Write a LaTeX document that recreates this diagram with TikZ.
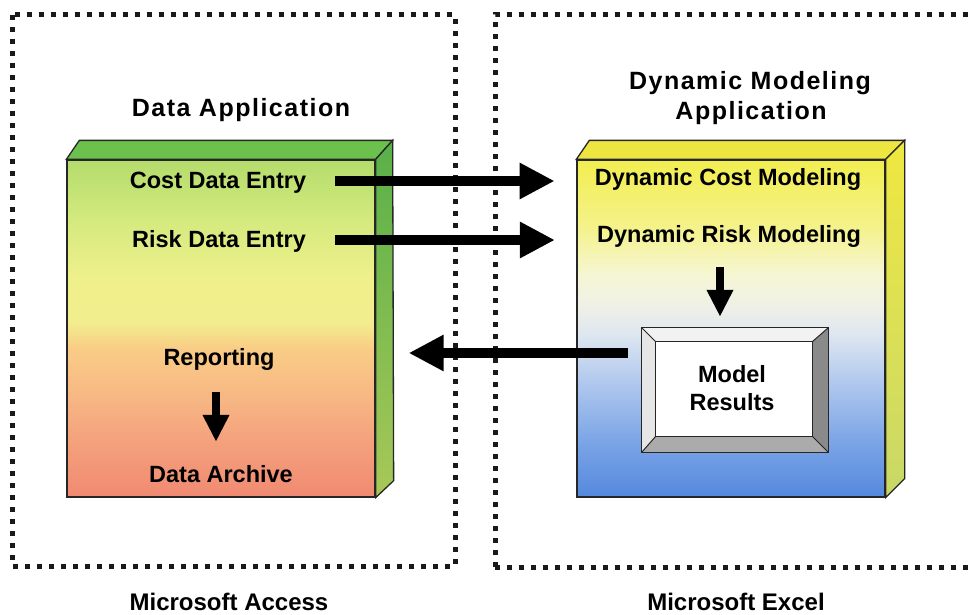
\documentclass[tikz,border=0pt]{standalone}
\usepackage{fontspec}
\setmainfont{Liberation Sans}
\newfontfamily\widefont[LetterSpace=6]{Liberation Sans}
\usetikzlibrary{arrows.meta}

% Access block colours (bottom to top)
\definecolor{acA}{HTML}{F08A72}
\definecolor{acB}{HTML}{F4A07C}
\definecolor{acC}{HTML}{F7B884}
\definecolor{acD}{HTML}{F9CC86}
\definecolor{acE}{HTML}{F2EE8E}
\definecolor{acF}{HTML}{EEF08A}
\definecolor{acG}{HTML}{D4EA7E}
\definecolor{acH}{HTML}{B4DC6C}
\definecolor{acTop}{HTML}{6CC04C}
\definecolor{acSideTop}{HTML}{58B048}
\definecolor{acSideBot}{HTML}{A8C858}
% Excel block colours (bottom to top)
\definecolor{xlA}{HTML}{5588DD}
\definecolor{xlB}{HTML}{7AA4E6}
\definecolor{xlC}{HTML}{B0C8EE}
\definecolor{xlD}{HTML}{DDE6F0}
\definecolor{xlE}{HTML}{EEF0E8}
\definecolor{xlF}{HTML}{F6F6D4}
\definecolor{xlG}{HTML}{F4F28A}
\definecolor{xlH}{HTML}{F2EE50}
\definecolor{xlTop}{HTML}{EEE640}
\definecolor{xlSideTop}{HTML}{F0E840}
\definecolor{xlSideBot}{HTML}{C8D868}
% bevel frame
\definecolor{bvLight}{HTML}{F2F2F2}
\definecolor{bvLeft}{HTML}{E6E6E6}
\definecolor{bvDark}{HTML}{8A8A8A}
\definecolor{bvMid}{HTML}{ABABAB}

\pgfdeclareverticalshading{accfront}{100bp}{color(0bp)=(acA); color(25bp)=(acA);
  color(33bp)=(acB); color(40bp)=(acC); color(47bp)=(acD); color(51bp)=(acE);
  color(58bp)=(acF); color(66bp)=(acG); color(75bp)=(acH); color(100bp)=(acH)}
\pgfdeclareverticalshading{accside}{100bp}{color(0bp)=(acSideBot); color(25bp)=(acSideBot);
  color(75bp)=(acSideTop); color(100bp)=(acSideTop)}
\pgfdeclareverticalshading{xlsfront}{100bp}{color(0bp)=(xlA); color(25bp)=(xlA);
  color(33bp)=(xlB); color(42bp)=(xlC); color(49bp)=(xlD); color(53bp)=(xlE);
  color(58bp)=(xlF); color(65bp)=(xlG); color(75bp)=(xlH); color(100bp)=(xlH)}
\pgfdeclareverticalshading{xlsside}{100bp}{color(0bp)=(xlSideBot); color(25bp)=(xlSideBot);
  color(75bp)=(xlSideTop); color(100bp)=(xlSideTop)}

\begin{document}
\begin{tikzpicture}[x=1pt,y=-1pt,
  dotline/.style={line width=5pt, dash pattern=on 5pt off 7pt, draw=black!90},
  edge/.style={draw=black!85, line width=1.3pt},
  face/.style={edge, inner sep=0pt, minimum width=308pt, minimum height=337pt},
  lbl/.style={font=\bfseries\fontsize{23.5}{26}\selectfont, inner sep=0pt,
    text height=17pt, text depth=3pt, anchor=base},
  ttl/.style={font=\widefont\bfseries\fontsize{25}{28}\selectfont, inner sep=0pt, anchor=base},
  captxt/.style={font=\bfseries\fontsize{24}{28}\selectfont, inner sep=0pt, anchor=base},
  fatarrow/.style={line width=10pt, -{Triangle[length=35pt,width=34pt]}},
  downarrow/.style={line width=8pt, -{Triangle[length=27pt,width=25pt]}}]

\fill[white] (0,0) rectangle (971,615);
\useasboundingbox (0,0) rectangle (971,615);

% dotted frames
\draw[dotline] (12,15) rectangle (455,566);
\draw[dotline] (495,567) -- (495,15) -- (985,15);
\draw[dotline] (495,567) -- (985,567);

% Access block
\node[face, shade, shading=accfront] (acc) at (221,328.5) {};
\path[edge, fill=acTop] (acc.north west) -- ++(13,-19)
  -- ([xshift=17pt,yshift=19pt]acc.north east) -- (acc.north east) -- cycle;
\path[edge, shade, shading=accside] (acc.north east)
  -- ([xshift=17pt,yshift=19pt]acc.north east)
  -- ([xshift=18pt,yshift=17pt]acc.south east) -- (acc.south east) -- cycle;
\node[face] at (acc) {};

% Excel block
\node[face, shade, shading=xlsfront] (xls) at (731,328.5) {};
\path[edge, fill=xlTop] (xls.north west) -- ++(13,-19)
  -- ([xshift=19pt,yshift=19pt]xls.north east) -- (xls.north east) -- cycle;
\path[edge, shade, shading=xlsside] (xls.north east)
  -- ([xshift=19pt,yshift=19pt]xls.north east)
  -- ([xshift=19pt,yshift=19pt]xls.south east) -- (xls.south east) -- cycle;
\node[face] at (xls) {};

% Model results bevelled frame
\node[inner sep=0pt, minimum width=186pt, minimum height=124pt] (mr) at (735,390) {};
\coordinate (iNW) at ([xshift=14pt,yshift=-14pt]mr.north west);
\coordinate (iNE) at ([xshift=-16pt,yshift=-14pt]mr.north east);
\coordinate (iSW) at ([xshift=14pt,yshift=16pt]mr.south west);
\coordinate (iSE) at ([xshift=-16pt,yshift=16pt]mr.south east);
\fill[bvLight] (mr.north west) -- (mr.north east) -- (iNE) -- (iNW) -- cycle;
\fill[bvLeft] (mr.north west) -- (iNW) -- (iSW) -- (mr.south west) -- cycle;
\fill[bvDark] (mr.north east) -- (mr.south east) -- (iSE) -- (iNE) -- cycle;
\fill[bvMid] (mr.south west) -- (iSW) -- (iSE) -- (mr.south east) -- cycle;
\fill[white] (iNW) rectangle (iSE);
\draw[edge] (mr.north west) rectangle (mr.south east);
\draw[edge] (iNW) rectangle (iSE);
\draw[black!85, line width=1pt] (mr.north west) -- (iNW) (mr.north east) -- (iNE)
  (mr.south west) -- (iSW) (mr.south east) -- (iSE);

% titles and captions
\node[ttl] (ttlA) at (241,117) {Data Application};
\node[ttl] (ttlX1) at (750,90) {Dynamic Modeling};
\node[ttl] (ttlX2) at (751,120) {Application};
\node[captxt] (capA) at (229,610) {Microsoft Access};
\node[captxt] (capX) at (736,610) {Microsoft Excel};

% block labels
\node[lbl] (cost) at (218,188) {Cost Data Entry};
\node[lbl] (risk) at (219,247) {Risk Data Entry};
\node[lbl] (rep) at (219,365) {Reporting};
\node[lbl] (arch) at (221,482) {Data Archive};
\node[lbl] (dcost) at (728,185) {Dynamic Cost Modeling};
\node[lbl] (drisk) at (729,242) {Dynamic Risk Modeling};
\node[lbl] (model) at (732,382) {Model};
\node[lbl] (res) at (732,410) {Results};

% data flows
\draw[fatarrow] ([xshift=29pt]cost.east) -- ([xshift=-40pt]dcost.west |- cost.east);
\draw[fatarrow] ([xshift=29pt]risk.east) -- ([xshift=-42pt]drisk.west |- risk.east);
\coordinate (fbstart) at ([xshift=-14pt,yshift=37pt]mr.west);
\draw[fatarrow] (fbstart) -- ([xshift=33pt]acc.east |- fbstart);
\draw[downarrow, shorten <=24pt, shorten >=23pt]
  ([xshift=-3pt]rep.south) -- ([xshift=-3pt]rep.south |- arch.north);
\draw[downarrow, shorten <=22pt, shorten >=11pt]
  ([xshift=-9pt]drisk.south) -- ([xshift=-9pt]drisk.south |- mr.north);
\end{tikzpicture}
\end{document}
